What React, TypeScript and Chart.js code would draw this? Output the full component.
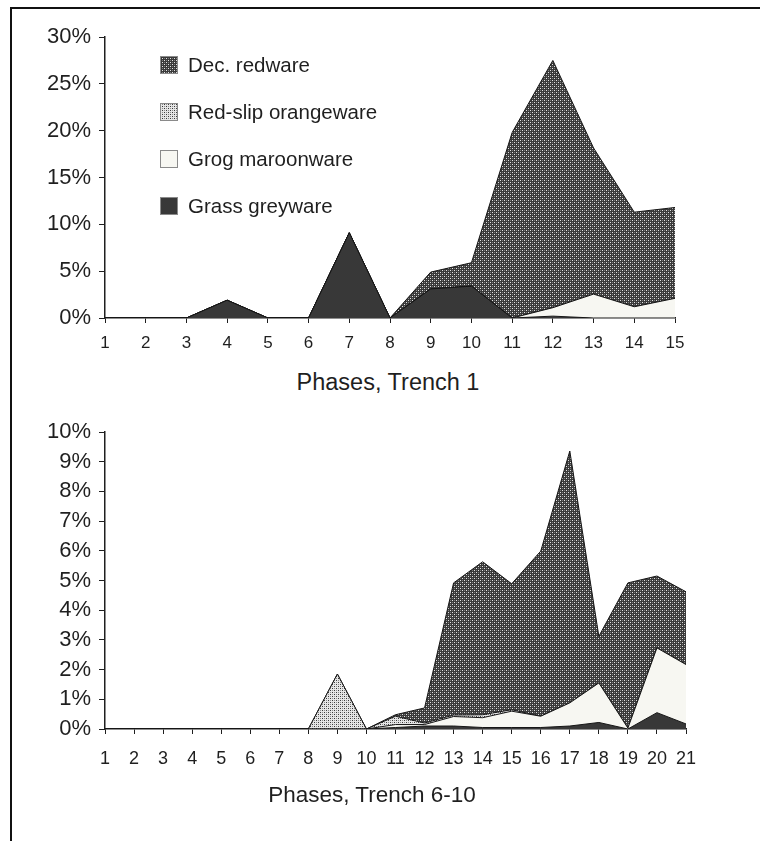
import React, { useEffect, useRef } from "react";
import { Chart, registerables } from "chart.js";

Chart.register(...registerables);

// ---------- data ----------
const seriesLabels = ["Grass greyware", "Grog maroonware", "Red-slip orangeware", "Dec. redware"];

const trench1Phases = ["1", "2", "3", "4", "5", "6", "7", "8", "9", "10", "11", "12", "13", "14", "15"];
const trench1Grass = [0, 0, 0, 1.9, 0, 0, 9.1, 0, 3.1, 3.4, 0, 0.2, 0, 0, 0];
const trench1Grog = [0, 0, 0, 0, 0, 0, 0, 0, 0, 0, 0, 0.9, 2.55, 1.2, 2.1];
const trench1RedSlip = [0, 0, 0, 0, 0, 0, 0, 0, 0, 0, 0, 0, 0, 0, 0];
const trench1DecRed = [0, 0, 0, 0, 0, 0, 0, 0, 1.8, 2.5, 19.8, 26.4, 15.6, 10.1, 9.7];

const trench610Phases = [
  "1", "2", "3", "4", "5", "6", "7", "8", "9", "10", "11",
  "12", "13", "14", "15", "16", "17", "18", "19", "20", "21",
];
const trench610Grass = [0, 0, 0, 0, 0, 0, 0, 0, 0, 0, 0.05, 0.1, 0.1, 0.05, 0.05, 0.05, 0.1, 0.22, 0, 0.55, 0.17];
const trench610Grog = [0, 0, 0, 0, 0, 0, 0, 0, 0, 0, 0.1, 0.05, 0.32, 0.33, 0.55, 0.38, 0.78, 1.33, 0.03, 2.18, 2.0];
const trench610RedSlip = [0, 0, 0, 0, 0, 0, 0, 0, 1.85, 0, 0.28, 0.05, 0.05, 0.1, 0.05, 0, 0, 0, 0, 0, 0];
const trench610DecRed = [0, 0, 0, 0, 0, 0, 0, 0, 0, 0, 0.05, 0.51, 4.45, 5.15, 4.24, 5.56, 8.48, 1.57, 4.89, 2.42, 2.45];

const trench1YMax = 30;
const trench1YStep = 5;
const trench610YMax = 10;
const trench610YStep = 1;

const trench1Title = "Phases, Trench 1";
const trench610Title = "Phases, Trench 6-10";

// ---------- styling helpers ----------
const FONT = '"Liberation Sans", Arial, Helvetica, sans-serif';
const INK = "#1f1f1f";

function makeFills(ctx: CanvasRenderingContext2D) {
  const mk = (bg: string, dots: Array<[number, number, string]>, size: number) => {
    const c = document.createElement("canvas");
    c.width = size;
    c.height = size;
    const g = c.getContext("2d")!;
    g.fillStyle = bg;
    g.fillRect(0, 0, size, size);
    dots.forEach(([x, y, col]) => {
      g.fillStyle = col;
      g.fillRect(x, y, 1, 1);
    });
    return ctx.createPattern(c, "repeat")!;
  };
  return [
    "#383838",
    "#f7f7f2",
    mk("#e6e6e6", [[0, 0, "#3a3a3a"], [2, 2, "#3a3a3a"], [2, 0, "#8c8c8c"], [0, 2, "#8c8c8c"]], 4),
    mk("#393939", [[0, 0, "#e2e2e2"], [2, 2, "#e2e2e2"], [2, 0, "#7c7c7c"], [0, 2, "#7c7c7c"]], 4),
  ];
}

const boxLegendPlugin = {
  id: "boxLegend",
  afterDraw(chart: any, _args: any, opts: any) {
    if (!opts || !opts.show) return;
    const { ctx, chartArea } = chart;
    const items = [...chart.data.datasets].reverse();
    ctx.save();
    ctx.font = `${opts.fontSize}px ${FONT}`;
    ctx.textBaseline = "middle";
    ctx.textAlign = "left";
    items.forEach((d: any, i: number) => {
      const x = chartArea.left + opts.left;
      const y = chartArea.top + opts.top + i * opts.step;
      const s = opts.box;
      ctx.fillStyle = d.backgroundColor;
      ctx.fillRect(x, y - s / 2, s, s);
      ctx.strokeStyle = "#8a8a8a";
      ctx.lineWidth = 1;
      ctx.strokeRect(x + 0.5, y - s / 2 + 0.5, s - 1, s - 1);
      ctx.fillStyle = INK;
      ctx.fillText(d.label, x + s + 10, y + 1);
    });
    ctx.restore();
  },
};

type PanelProps = {
  phases: string[];
  series: number[][];
  yMax: number;
  yStep: number;
  top: number;
  height: number;
  plotTop: number;
  plotBottom: number;
  plotRight: number;
  xFont: number;
  xPad: number;
  showLegend: boolean;
};

function AreaPanel(p: PanelProps) {
  const ref = useRef<HTMLCanvasElement | null>(null);
  useEffect(() => {
    const canvas = ref.current!;
    const ctx = canvas.getContext("2d")!;
    const fills = makeFills(ctx);
    const chart = new Chart(canvas, {
      type: "line",
      data: {
        labels: p.phases,
        datasets: p.series.map((vals, i) => ({
          label: seriesLabels[i],
          data: vals,
          backgroundColor: fills[i] as any,
          borderColor: "#161616",
          borderWidth: 1,
          fill: i === 0 ? "origin" : "-1",
          pointRadius: 0,
          tension: 0,
        })),
      },
      options: {
        animation: false,
        responsive: false,
        events: [],
        layout: { padding: { top: p.plotTop, right: 760 - p.plotRight, left: 0, bottom: 0 } },
        plugins: {
          legend: { display: false },
          tooltip: { enabled: false },
          boxLegend: { show: p.showLegend, left: 55, top: 28, step: 47, box: 18, fontSize: 20.5 },
        } as any,
        scales: {
          x: {
            offset: false,
            grid: { display: true, drawOnChartArea: false, drawTicks: true, tickLength: 5, color: INK, lineWidth: 1 },
            border: { display: true, color: INK, width: 1.5 },
            ticks: { font: { family: FONT, size: p.xFont }, color: INK, padding: p.xPad, maxRotation: 0, autoSkip: false },
            afterFit: (s: any) => {
              s.height = p.height - p.plotBottom;
            },
          },
          y: {
            stacked: true,
            min: 0,
            max: p.yMax,
            grid: { display: true, drawOnChartArea: false, drawTicks: true, tickLength: 6, color: INK, lineWidth: 1 },
            border: { display: true, color: INK, width: 1.5 },
            ticks: {
              stepSize: p.yStep,
              font: { family: FONT, size: 22 },
              color: INK,
              padding: 8,
              callback: (v: any) => `${v}%`,
            },
            afterFit: (s: any) => {
              s.width = 105;
            },
          },
        },
      },
      plugins: [boxLegendPlugin],
    });
    return () => chart.destroy();
  }, []);
  return (
    <canvas
      ref={ref}
      width={760}
      height={p.height}
      style={{ position: "absolute", left: 0, top: p.top, width: 760, height: p.height }}
    />
  );
}

export default function App() {
  return (
    <div style={{ position: "absolute", left: 0, top: 0, width: 760, height: 841, background: "#fff", overflow: "hidden" }}>
      <div style={{ position: "absolute", left: 10, top: 7, width: 750, height: 2, background: "#111" }} />
      <div style={{ position: "absolute", left: 10, top: 7, width: 2, height: 834, background: "#111" }} />
      <AreaPanel
        phases={trench1Phases}
        series={[trench1Grass, trench1Grog, trench1RedSlip, trench1DecRed]}
        yMax={trench1YMax}
        yStep={trench1YStep}
        top={0}
        height={360}
        plotTop={37}
        plotBottom={318}
        plotRight={675}
        xFont={17}
        xPad={10}
        showLegend={true}
      />
      <div
        style={{
          position: "absolute", left: 388, top: 368, transform: "translateX(-50%)",
          font: `23.5px ${FONT}`, color: INK, whiteSpace: "nowrap", lineHeight: "28px",
        }}
      >
        {trench1Title}
      </div>
      <AreaPanel
        phases={trench610Phases}
        series={[trench610Grass, trench610Grog, trench610RedSlip, trench610DecRed]}
        yMax={trench610YMax}
        yStep={trench610YStep}
        top={380}
        height={420}
        plotTop={52}
        plotBottom={349}
        plotRight={686}
        xFont={18}
        xPad={14}
        showLegend={false}
      />
      <div
        style={{
          position: "absolute", left: 372, top: 781, transform: "translateX(-50%)",
          font: `22.5px ${FONT}`, color: INK, whiteSpace: "nowrap", lineHeight: "28px",
        }}
      >
        {trench610Title}
      </div>
    </div>
  );
}
